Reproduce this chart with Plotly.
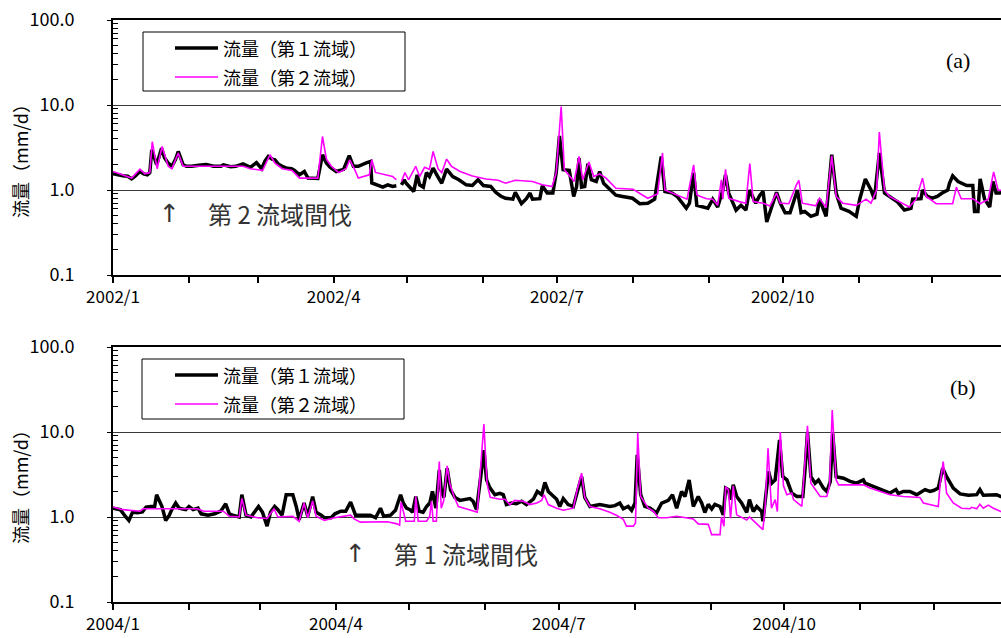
import pandas as pd
import plotly.graph_objects as go

# ---------------- data (day offset from Jan 1, daily flow mm/d) ----------------
# Panel (a) 2002
a_days_1 = [0, 2, 4, 6, 7.6, 9, 11, 12.5, 14, 15, 15.8, 17.8, 19.8, 21, 22.5, 24, 25.5, 26.6, 28.6, 30,
            32, 35, 38, 41, 44, 45, 48, 50, 53, 56, 58.5, 60.6, 62, 63.3, 65, 66, 67.5, 69, 71, 72.8,
            74, 76, 78, 79.5, 82, 83.5, 85.4, 87, 88.5, 91, 94, 96.3, 98, 100, 103, 105, 105.5, 108, 110, 112,
            114, 115.5, 116.5, 117.6, 118.7, 119.5, 122.6, 124, 125, 126.5, 127.8, 129, 130.5, 132, 134, 136, 138.5, 141, 144, 146.5,
            148.8, 151, 154, 156, 158, 160, 163, 164, 166.5, 168.5, 170, 171, 174, 175, 177, 179.3, 180.7, 182, 183.5, 186,
            187.8, 189, 190, 191, 192.3, 193.6, 195, 197, 198.4, 200, 202.6, 205, 207.7, 211.8, 214.7, 218, 220.8, 223.5, 225, 228,
            230, 233.7, 235, 236.7, 238, 240.5, 242.5, 244.5, 246.5, 248.6, 249.7, 251, 254, 256, 258, 259.5, 261, 262, 263.7, 265,
            266.5, 268, 270.5, 272, 274, 276, 277.5, 279, 280.5, 282, 284.5, 287, 288, 289.3, 290.7, 293, 294.8, 296.8, 300, 303,
            304.4, 306.7, 309, 310.4, 312.4, 314.5, 317.8, 319.9, 322.6, 325.3, 326, 329.4, 330, 332, 334, 336, 338, 340.3, 341, 342.3,
            344.5, 348, 350.5, 351.2, 352.6, 353.5, 355.3, 357.4, 358.7, 360, 361.5, 363, 364.5]
a_vals_1 = [1.55, 1.5, 1.47, 1.45, 1.35, 1.45, 1.65, 1.55, 1.51, 1.6, 2.97, 1.98, 3.1, 2.4, 2.07, 1.9, 2.3, 2.84, 1.98, 1.9,
            1.9, 1.95, 2.0, 1.9, 1.9, 1.98, 1.88, 1.9, 2.03, 1.85, 2.1, 1.78, 2.2, 2.48, 2.3, 2.27, 2.0, 1.9, 1.8, 1.78,
            1.7, 1.51, 1.65, 1.38, 1.37, 1.37, 2.6, 2.07, 1.85, 1.65, 1.75, 2.53, 1.9, 1.9, 2.07, 2.17, 1.21, 1.13, 1.08, 1.15,
            1.1, 1.12, None, 1.15, 1.32, 1.2, 0.96, 1.51, 1.15, 1.08, 1.6, 1.44, 1.81, 1.51, 1.2, 1.76, 1.44, 1.32, 1.15, 1.13,
            1.32, 1.13, 1.1, 0.94, 0.85, 0.8, 0.78, 0.94, 0.69, 0.79, 0.92, 0.78, 0.79, 1.12, 0.92, 0.92, 1.6, 4.33, 1.73, 1.7,
            0.84, 1.1, 2.37, 1.08, 1.1, 2.04, 1.32, 1.26, 1.65, 1.2, 1.0, 0.87, 0.84, 0.8, 0.69, 0.7, 0.78, 2.48, 0.96, 0.92,
            0.84, 0.61, 0.7, 1.6, 0.66, 0.63, 0.61, 0.78, 0.63, 1.0, 1.51, 0.92, 0.58, 0.66, 0.58, 1.0, 0.78, 0.7, 0.87, 0.96,
            0.42, 0.58, 0.94, 0.7, 0.54, 0.54, 0.73, 1.0, 0.54, 0.56, 0.49, 0.52, 0.78, 0.61, 0.49, 2.6, 0.92, 0.61, 0.56, 0.49,
            0.78, 1.35, 1.0, 0.78, 2.72, 0.92, 0.78, 0.72, 0.58, 0.61, 0.78, 0.79, 1.0, 0.84, 0.8, 0.84, 0.92, 1.0, 1.2, 1.47,
            1.26, 1.13, 1.13, 0.56, 0.56, 1.35, 0.78, 0.63, 1.26, 0.92, 0.92, 0.95, 0.9]

a_days_2 = [0, 4, 7.6, 11, 13, 15, 16, 18, 20, 22.5, 24, 26.6, 28.6, 40, 53, 56, 61, 64, 66, 69,
            73, 76, 83.5, 85.4, 87, 89, 92, 95, 96.5, 98.5, 100, 104.5, 105.5, 107, 114, 115.5, 116.5, 117.6, 119, 120.5,
            123.4, 125, 127, 129, 130.5, 132.5, 134, 136, 138, 141.5, 146.5, 152, 157, 160, 164, 171, 175, 179, 180.7, 182.7,
            184, 188, 190, 191.5, 194, 196, 198.4, 201, 205, 212, 218, 222, 224, 225, 230, 234, 236.7, 238, 239.5, 242,
            244.5, 246.5, 248, 248.6, 249.7, 251, 255.3, 258, 259.6, 261, 265, 267.8, 270.5, 272, 275.5, 277, 278.6, 279.6, 281, 286.5,
            288, 290.7, 293, 294.8, 297.5, 303, 307, 309, 311.3, 312.4, 314.5, 316.5, 322, 324.6, 327.4, 330, 331.5, 335.6, 342.3, 343.8,
            345.8, 350.5, 353.5, 356.8, 359, 360.8, 363, 364.5]
a_vals_2 = [1.65, 1.51, 1.38, 1.76, 1.55, 1.6, 3.7, 1.78, 3.25, 1.9, 1.78, 2.72, 1.9, 1.9, 1.9, 1.78, 1.7, 2.6, 2.07, 1.78,
            1.7, 1.38, 1.38, 4.26, 2.31, 1.9, 1.6, 1.78, 2.27, 1.75, 1.38, 1.51, 2.27, 1.61, 1.44, 1.32, None, 1.26, 1.6, 1.32,
            1.9, 1.44, 1.85, 1.75, 2.84, 1.78, 1.6, 2.31, 1.9, 1.65, 1.46, 1.35, 1.3, 1.2, 1.3, 1.26, 1.15, 1.1, 1.6, 9.6,
            1.73, 1.26, 2.48, 1.32, 2.13, 1.44, 1.55, 1.38, 1.05, 1.02, 0.8, 0.9, 2.72, 1.0, 0.87, 0.78, 1.98, 0.88, 0.84, 0.79,
            0.78, 0.66, 1.32, 0.78, 1.75, 0.8, 0.73, 0.7, 2.04, 0.73, 0.7, 0.65, 0.92, 0.7, 0.69, 0.9, 1.15, 1.3, 0.7, 0.65,
            0.8, 0.62, 2.53, 0.84, 0.7, 0.66, 0.78, 0.7, 1.0, 4.8, 1.0, 0.84, 0.7, 0.63, 0.78, 1.38, 0.84, 0.69, 0.69, 1.08,
            0.79, 0.79, 0.69, 0.78, 1.63, 1.0, 0.98, 0.95]

# Panel (b) 2004
b_days_1 = [0, 3, 5, 6.5, 8, 10, 12, 13.5, 15.5, 17, 17.8, 20, 21.5, 23, 24, 25.6, 27, 29.7, 31, 32.7,
            34.7, 36, 38.8, 41.5, 44, 46, 47.5, 48.8, 51.5, 52.6, 54.3, 56.3, 57.7, 59.4, 61, 62.9, 64.3, 66, 67.3, 69,
            70.7, 73.4, 74.8, 76, 78, 79.5, 81.5, 82.9, 85, 86.3, 89, 90.6, 93, 95, 97, 99, 105, 107.2, 109.2, 110.5,
            113.3, 115.3, 117.4, 118.5, 119.8, 121.2, 122.3, 123.6, 125, 126.6, 128, 129.3, 130.4, 131.8, 133.2, 134.1, 135.1, 136.4, 137.8, 139.6,
            141.6, 143.6, 145.7, 147, 148.4, 149.7, 151.4, 152.5, 153.8, 155.9, 157.9, 159.3, 160.6, 162.7, 164.7, 166.8, 168.8, 171.6, 173.2, 175,
            176.3, 177.7, 179.7, 181.1, 182.4, 183.8, 185.8, 187.9, 189.5, 191.3, 192.6, 194.7, 198.7, 202.8, 204.9, 206.9, 208.3, 210.3, 211.7, 213.1,
            214, 215.4, 217.1, 219.2, 221.9, 224, 226.7, 228.4, 230.1, 232.1, 233.5, 235.2, 236.9, 238.9, 240.3, 241.6, 243, 244.4, 245.7, 247.8,
            249.1, 250.1, 251.2, 252.1, 253.2, 254.6, 256.6, 258.7, 259.8, 261.4, 262.8, 264.8, 265.3, 266.2, 267.6, 268.9, 270.3, 272.1, 273.4, 275.1,
            277.1, 279.2, 281.6, 282.6, 283.5, 284.9, 286.6, 288, 290, 291.4, 292.8, 293.8, 295.2, 298.2, 300.9, 303.6, 306.3, 307, 310.4, 313.8,
            317.2, 319.6, 320.6, 322.6, 325.3, 328.1, 331.5, 333.5, 334.9, 336.9, 338.7, 340.3, 343, 345.8, 349.2, 352.6, 353.9, 355.3, 358, 360.7,
            362.4, 364, 365.5]
b_vals_1 = [1.27, 1.22, 1.02, 0.91, 1.14, 1.12, 1.15, 1.31, 1.33, 1.33, 1.83, 1.33, 0.91, 1.05, 1.22, 1.46, 1.27, 1.22, 1.33, 1.22,
            1.27, 1.09, 1.05, 1.09, 1.17, 1.43, 1.09, 1.05, 1.0, 1.83, 1.05, 1.0, 1.14, 1.33, 1.14, 0.78, 1.14, 1.33, 1.22, 1.05,
            1.83, 1.83, 1.33, 0.93, 1.46, 1.02, 1.74, 1.14, 1.05, 0.98, 0.98, 1.09, 1.17, 1.17, 1.5, 1.05, 1.05, 0.98, 1.27, 1.02,
            1.05, 1.2, 1.83, 1.46, 1.27, 1.22, 1.14, 1.74, 1.17, 1.14, 1.33, 1.46, 2.0, 1.27, 3.58, 1.95, 1.7, 3.75, 2.09, 1.7,
            1.57, 1.62, 1.65, 1.53, 1.22, 2.39, 6.1, 2.73, 2.22, 1.83, 1.9, 1.83, 1.4, 1.46, 1.43, 1.53, 1.4, 1.62, 2.0, 1.83,
            2.55, 2.0, 1.74, 1.62, 1.33, 1.65, 1.4, 1.33, 1.95, 2.99, 1.7, 1.33, 1.4, 1.33, 1.36, 1.46, 1.25, 1.33, 1.2, 1.46,
            5.4, 1.83, 1.33, 1.27, 1.12, 1.46, 1.57, 1.83, 1.27, 2.0, 1.74, 2.73, 1.33, 1.74, 1.46, 1.13, 1.41, 1.24, 1.41, 1.33,
            1.06, 2.19, 2.1, 1.6, 2.39, 1.74, 1.46, 1.13, 1.6, 1.16, 1.33, 1.16, 0.89, 1.6, 3.43, 2.5, 2.73, 8.05, 2.98, 2.73,
            1.91, 1.74, 1.74, 3.92, 10.0, 2.98, 2.5, 2.73, 2.19, 2.0, 2.6, 9.6, 2.98, 2.86, 2.62, 2.5, 2.73, 2.5, 2.29, 2.1,
            1.91, 2.1, 1.89, 2.0, 2.0, 1.83, 2.1, 2.0, 2.05, 2.19, 3.75, 2.98, 2.19, 1.87, 1.8, 1.83, 2.1, 1.8, 1.83, 1.83,
            1.74, 1.72, 1.7]

b_days_2 = [0, 4, 11, 12.3, 26, 34.5, 37, 45, 47.5, 51.5, 52.6, 54.3, 59, 62.9, 65.7, 67.3, 73.4, 76, 78, 79.5,
            81.5, 82.9, 86.3, 90.4, 97, 98.4, 101, 108, 112, 116, 117, 117.6, 119.5, 123, 123.6, 124.6, 128, 129.3, 130, 130.7,
            132, 133.2, 134, 135, 136.4, 137.5, 139.2, 141, 144.4, 147, 148.7, 150, 151.4, 152.7, 154, 157.9, 160, 162, 164, 167.5,
            170.2, 173, 175, 176, 177.7, 181.1, 183.8, 187.9, 189.5, 191.3, 192.6, 194.7, 198.7, 202.8, 205.5, 208.3, 209.6, 212.4, 213.3, 214.2,
            215.4, 218.5, 220.6, 222.6, 226, 230.1, 234, 236.9, 238.9, 243, 244.4, 247.8, 248.4, 249.4, 250.1, 251.2, 252.1, 253.2, 254.6, 258.7,
            259.8, 262.8, 265.3, 266.2, 267.4, 268.8, 270.3, 271.2, 272.4, 273.7, 275.1, 277.1, 277.8, 281.2, 282.3, 283.5, 284.9, 286.6, 288.7, 291.4,
            292.5, 293.6, 295.2, 296.2, 300.9, 306.3, 309, 313.1, 317.2, 322.6, 329.4, 330.8, 333.5, 336.9, 337.6, 338.9, 340.3, 343, 346.4, 349.8,
            350.5, 352.6, 353.9, 355.3, 357.3, 359.4, 362.4, 364, 365.5]
b_vals_2 = [1.31, 1.22, 1.17, 1.25, 1.25, 1.25, 1.17, 1.17, 1.02, 1.0, 1.65, 1.05, 0.98, 0.96, 1.25, 1.0, 1.02, 0.89, 1.46, 0.98,
            1.55, 1.02, 0.91, 0.98, 1.05, 0.95, 0.87, 0.87, 0.88, 0.83, 0.8, 1.5, 0.89, 0.89, 1.74, 0.89, 0.89, 1.02, 1.55, 0.89,
            0.89, 4.49, 1.27, 1.55, 3.99, 2.48, 1.74, 1.33, 1.25, 1.17, 1.14, 3.58, 12.4, 2.48, 1.7, 1.62, 1.62, 1.4, 1.57, 1.53,
            1.4, 1.46, 1.57, 1.83, 1.4, 1.27, 1.2, 1.27, 2.09, 3.28, 1.7, 1.33, 1.25, 1.14, 1.05, 0.94, 0.78, 0.78, 0.85, 9.8,
            1.74, 1.27, 1.17, 0.98, 0.98, 1.02, 0.98, 0.95, 0.83, 0.82, 0.62, 0.62, 1.0, 0.78, 2.27, 2.1, 0.97, 2.33, 1.06, 0.92,
            1.0, 0.83, 0.71, 1.27, 6.43, 1.27, 1.6, 1.16, 10.0, 2.33, 1.83, 1.91, 1.6, 1.33, 3.9, 11.8, 2.5, 2.1, 1.74, 1.74,
            2.33, 18.1, 2.73, 2.39, 2.39, 2.39, 2.19, 2.0, 1.83, 1.74, 1.7, 1.46, 1.41, 1.33, 2.39, 4.49, 1.91, 1.46, 1.27, 1.25,
            1.3, 1.25, 1.41, 1.27, 1.38, 1.27, 1.16, 1.15, 1.13]

series_names = ["流量（第１流域）", "流量（第２流域）"]
y_tickvals = [0.1, 1, 10, 100]
y_ticktext = ["0.1", "1.0", "10.0", "100.0"]
notes = ["↑", "第 2 流域間伐", "第 1 流域間伐"]
panel_tags = ["(a)", "(b)"]

# ---------------- layout helpers ----------------
W, H = 1001, 638
ML = 113
PW = W - ML


def px(x):
    return (x - ML) / PW


def py(y):
    return 1 - y / H


def dates(year, days):
    base = pd.Timestamp(f"{year}-01-01")
    return [base + pd.Timedelta(days=d) for d in days]


fig = go.Figure()

BLACK = "#000000"
MAG = "#FF00FF"
BW = 3.5
MW = 1.6

fig.add_trace(go.Scatter(x=dates(2002, a_days_1), y=a_vals_1, mode="lines", name=series_names[0],
                         line=dict(color=BLACK, width=BW), xaxis="x", yaxis="y", showlegend=False))
fig.add_trace(go.Scatter(x=dates(2002, a_days_2), y=a_vals_2, mode="lines", name=series_names[1],
                         line=dict(color=MAG, width=MW), xaxis="x", yaxis="y", showlegend=False))
fig.add_trace(go.Scatter(x=dates(2004, b_days_1), y=b_vals_1, mode="lines", name=series_names[0],
                         line=dict(color=BLACK, width=BW), xaxis="x2", yaxis="y2", showlegend=False))
fig.add_trace(go.Scatter(x=dates(2004, b_days_2), y=b_vals_2, mode="lines", name=series_names[1],
                         line=dict(color=MAG, width=MW), xaxis="x2", yaxis="y2", showlegend=False))

JP = "Noto Sans CJK JP, sans-serif"
TICKFONT = dict(family=JP, size=18, color="black")


def xaxis_cfg(year, anchor, end_day):
    months = pd.date_range(f"{year}-01-01", f"{year}-12-01", freq="MS")
    text = [f"{year}/{m.month}" if m.month in (1, 4, 7, 10) else "" for m in months]
    return dict(type="date", anchor=anchor, domain=[0, 1], automargin=False,
                range=[pd.Timestamp(f"{year}-01-01"), pd.Timestamp(f"{year}-01-01") + pd.Timedelta(days=end_day)],
                tickmode="array", tickvals=list(months), ticktext=text,
                ticks="outside", ticklen=6, tickwidth=1.5, tickcolor="black",
                showline=True, linecolor="black", linewidth=2, mirror=True,
                showgrid=False, zeroline=False, tickfont=dict(family=JP, size=17, color="black"),
                ticklabelstandoff=0)


minor_vals = [v * m for v in (0.1, 1, 10) for m in range(2, 10)]


def yaxis_cfg(anchor, dom):
    return dict(type="log", anchor=anchor, domain=dom, range=[-1, 2], automargin=False,
                tickmode="array", tickvals=y_tickvals, ticktext=y_ticktext,
                ticks="outside", ticklen=4, tickwidth=1, tickcolor="black",
                minor=dict(tickmode="array", tickvals=minor_vals, ticks="inside", ticklen=5,
                           tickcolor="black", tickwidth=1, showgrid=False),
                showline=True, linecolor="black", linewidth=2, mirror=False,
                showgrid=True, gridcolor="#3a3a3a", gridwidth=1, zeroline=False,
                tickfont=TICKFONT, ticklabelstandoff=29)


fig.update_layout(
    width=W, height=H,
    margin=dict(l=ML, r=0, t=0, b=0, pad=0, autoexpand=False),
    paper_bgcolor="white", plot_bgcolor="white",
    xaxis=xaxis_cfg(2002, "y", 362),
    yaxis=yaxis_cfg("x", [py(275), py(20)]),
    xaxis2=xaxis_cfg(2004, "y2", 362.5),
    yaxis2=yaxis_cfg("x2", [py(602), py(347)]),
)

shapes = []
annotations = []

for idx, (bx0, by0, bx1, by1, l1, l2, title_y, tag_xy, note_xy, note_text) in enumerate([
    (143, 32, 405, 91, 48, 77, 157, (958, 60), (169, 214), notes[1]),
    (142, 359, 404, 419, 375, 404, 483, (963, 387), (355, 553), notes[2]),
]):
    shapes.append(dict(type="rect", xref="paper", yref="paper", x0=px(bx0), x1=px(bx1), y0=py(by1), y1=py(by0),
                       line=dict(color="black", width=1), fillcolor="white", layer="above"))
    shapes.append(dict(type="line", xref="paper", yref="paper", x0=px(175), x1=px(218), y0=py(l1), y1=py(l1),
                       line=dict(color=BLACK, width=BW), layer="above"))
    shapes.append(dict(type="line", xref="paper", yref="paper", x0=px(175), x1=px(218), y0=py(l2), y1=py(l2),
                       line=dict(color=MAG, width=MW), layer="above"))
    for ly, name in ((l1, series_names[0]), (l2, series_names[1])):
        annotations.append(dict(xref="paper", yref="paper", x=px(221), y=py(ly), text=name, showarrow=False,
                                xanchor="left", yanchor="middle", font=dict(family=JP, size=18, color="black")))
    annotations.append(dict(xref="paper", yref="paper", x=px(20), y=py(title_y), text="流量（mm/d）",
                            showarrow=False, textangle=-90, xanchor="center", yanchor="middle",
                            font=dict(family=JP, size=18, color="black")))
    annotations.append(dict(xref="paper", yref="paper", x=px(tag_xy[0]), y=py(tag_xy[1]), text=panel_tags[idx],
                            showarrow=False, xanchor="center", yanchor="middle",
                            font=dict(family="Liberation Serif, serif", size=22, color="black")))
    annotations.append(dict(xref="paper", yref="paper", x=px(note_xy[0]), y=py(note_xy[1]), text=notes[0],
                            showarrow=False, xanchor="center", yanchor="middle",
                            font=dict(family="DejaVu Sans, sans-serif", size=25, color="#333333")))
    annotations.append(dict(xref="paper", yref="paper", x=px(note_xy[0] + 37), y=py(note_xy[1]), text=note_text,
                            showarrow=False, xanchor="left", yanchor="middle",
                            font=dict(family=JP, size=24, color="#333333")))

fig.update_layout(shapes=shapes, annotations=annotations)

fig.write_html("out.html", config={"displayModeBar": False},
               post_script="document.body.style.margin='0px';")
